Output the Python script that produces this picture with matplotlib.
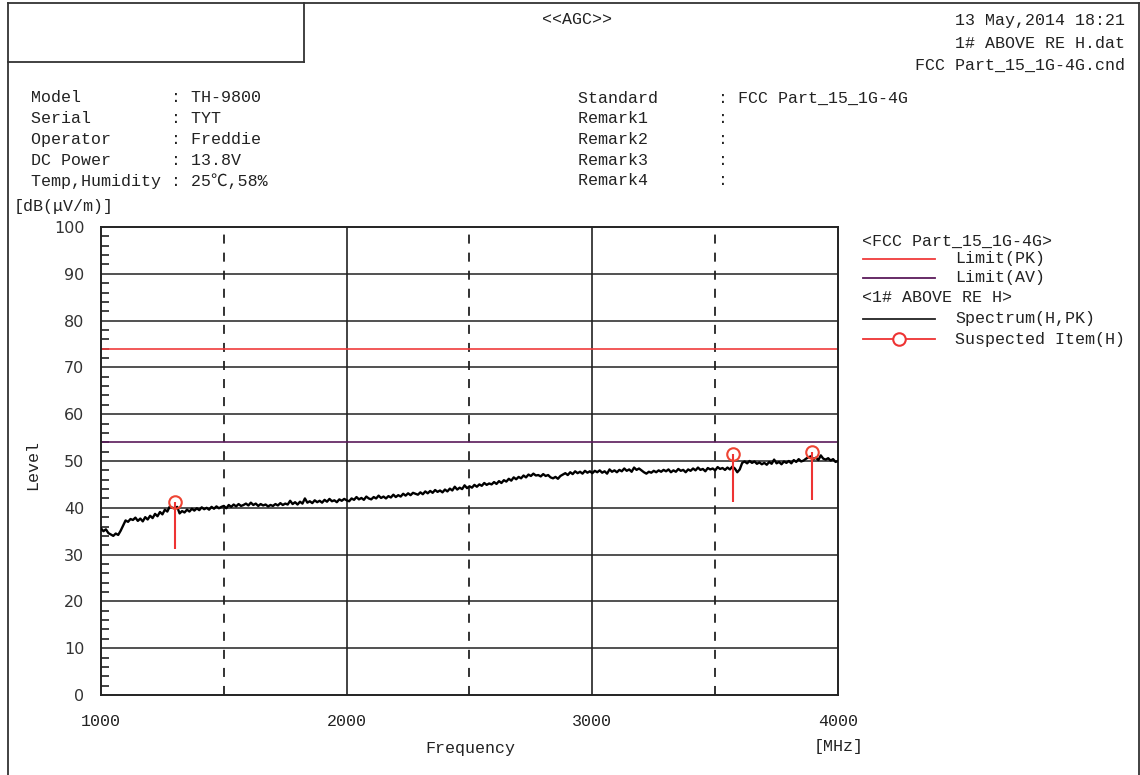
import numpy as np
import matplotlib
matplotlib.use("Agg")
import matplotlib.pyplot as plt
from matplotlib.lines import Line2D
from matplotlib.ticker import MultipleLocator

# spectrum (H, PK), 10 MHz step from 1000 to 4000 MHz
freq = np.arange(1000, 4001, 10)
level = [
    35.6, 35.0, 35.4, 34.6, 34.3, 34.0, 34.5, 34.2, 35.1, 36.2,
    37.3, 37.0, 37.6, 37.4, 37.9, 37.2, 37.7, 37.1, 38.0, 37.5,
    38.3, 37.8, 38.7, 38.2, 39.1, 38.6, 39.6, 39.2, 40.3, 40.0,
    39.9, 40.2, 38.8, 39.3, 39.0, 39.6, 39.2, 39.8, 39.4, 39.9,
    39.5, 40.1, 39.7, 40.0, 39.6, 40.2, 39.8, 40.3, 39.9, 40.2,
    40.4, 39.9, 40.6, 40.2, 40.7, 40.3, 40.8, 40.4, 40.6, 40.9,
    40.5, 41.1, 40.6, 40.9, 40.4, 40.8, 40.5, 40.7, 40.3, 40.6,
    40.4, 40.8, 40.5, 41.0, 40.6, 40.9, 40.7, 41.5, 40.8, 41.2,
    40.7, 41.3, 40.9, 42.0, 41.1, 41.4, 41.0, 41.6, 41.2, 41.5,
    41.1, 41.7, 41.3, 41.9, 41.4, 41.6, 41.2, 41.8, 41.5, 41.9,
    41.6, 41.4, 42.0, 41.7, 42.3, 41.8, 42.1, 41.7, 42.4, 42.0,
    41.8, 42.3, 42.0, 42.6, 42.1, 42.4, 42.0, 42.5, 42.2, 42.8,
    42.3, 42.7, 42.4, 43.0, 42.6, 43.1, 42.7, 43.2, 43.0, 42.8,
    43.3, 42.9, 43.5, 43.1, 43.6, 43.2, 43.8, 43.4, 43.7, 43.3,
    43.9, 43.5, 44.1, 43.7, 44.5, 43.9, 44.3, 44.0, 44.8, 44.2,
    44.6, 44.3, 44.9, 44.5, 45.0, 44.7, 45.3, 44.9, 45.2, 45.0,
    45.5, 45.1, 45.7, 45.3, 45.9, 45.6, 46.2, 45.8, 46.5, 46.1,
    46.6, 46.3, 46.9, 46.5, 47.1, 46.8, 47.3, 46.9, 47.0, 46.7,
    47.2, 46.8, 47.0, 46.5, 46.3, 46.6, 46.2, 46.8, 47.1, 47.4,
    47.0, 47.6, 47.2, 47.8, 47.4, 47.7, 47.3, 47.9, 47.5, 47.8,
    47.4, 47.9, 47.6, 48.0, 47.5, 47.8, 47.3, 48.2, 47.7, 48.0,
    47.6, 48.1, 47.8, 48.4, 47.9, 48.2, 47.7, 48.6, 48.1, 48.4,
    48.0, 47.6, 47.3, 47.7, 47.5, 47.9, 47.6, 48.0, 47.7, 48.1,
    47.8, 48.2, 47.6, 48.0, 47.7, 48.3, 47.9, 48.1, 47.6, 48.2,
    47.9, 48.4, 48.0, 48.6, 48.1, 48.3, 47.8, 48.5, 48.2, 48.4,
    48.0, 48.7, 48.3, 48.5, 48.1, 48.6, 48.2, 48.8, 48.4, 47.6,
    48.2, 49.6, 49.9, 49.5, 50.0, 49.6, 49.9, 49.4, 49.7, 49.3,
    49.6, 49.2, 49.8, 49.4, 50.3, 49.5, 49.8, 49.3, 49.9, 49.6,
    50.0, 49.5, 50.2, 49.8, 50.4, 49.9, 50.1, 50.5, 50.8, 51.0,
    50.4, 50.7, 50.2, 51.2, 50.5, 50.3, 50.6, 50.1, 50.4, 49.8,
    50.0,
]

limit_pk = 74.0
limit_av = 54.0

# suspected items
sus_freq = [1300, 3572, 3894]
sus_level = [41.2, 51.4, 51.9]
sus_base = [31.2, 41.3, 41.7]

header_left = [("Model", "TH-9800"), ("Serial", "TYT"), ("Operator", "Freddie"),
               ("DC Power", "13.8V"), ("Temp,Humidity", "25℃,58%")]
header_right = [("Standard", "FCC Part_15_1G-4G"), ("Remark1", ""), ("Remark2", ""),
                ("Remark3", ""), ("Remark4", "")]

W, H = 1140, 775
mono = ["Liberation Mono", "Noto Sans CJK SC", "DejaVu Sans"]
txtc = "#222222"

def fx(x):
    return x / W

def fy(y):
    return 1 - y / H

fig = plt.figure(figsize=(W / 100, H / 100), dpi=100)

# page frame
for xs, ys in [([8, 1139], [3, 3]), ([8, 8], [3, 775]), ([1139, 1139], [3, 775]),
               ([8, 304], [62, 62]), ([304, 304], [3, 62])]:
    fig.add_artist(Line2D([fx(v) for v in xs], [fy(v) for v in ys], color="#333333", lw=1.3))

fig.text(fx(577), fy(20), "<<AGC>>", family=mono, fontsize=12, ha="center", va="center", color=txtc)
fig.text(fx(1125), fy(21), "13 May,2014 18:21", family=mono, fontsize=12, ha="right", va="center", color=txtc)
fig.text(fx(1125), fy(44), "1# ABOVE RE H.dat", family=mono, fontsize=12, ha="right", va="center", color=txtc)
fig.text(fx(1125), fy(65), "FCC Part_15_1G-4G.cnd", family=mono, fontsize=12, ha="right", va="center", color=txtc)

for i, (k, v) in enumerate(header_left):
    fig.text(fx(31), fy(98 + i * 20.7), f"{k:<14}: {v}", family=mono, fontsize=12, va="center", color=txtc)
for i, (k, v) in enumerate(header_right):
    fig.text(fx(578), fy(98 + i * 20.7), f"{k:<14}: {v}", family=mono, fontsize=12, va="center", color=txtc)

fig.text(fx(14), fy(207), "[dB(μV/m)]", family=mono, fontsize=12, va="center", color=txtc)
fig.text(fx(33), fy(465), "Level", family=mono, fontsize=12, rotation=90, ha="center", va="center", color=txtc)
fig.text(fx(470), fy(748), "Frequency", family=mono, fontsize=12, ha="center", va="center", color=txtc)
fig.text(fx(839), fy(747), "[MHz]", family=mono, fontsize=12, ha="center", va="center", color=txtc)

ax = fig.add_axes([fx(101), fy(695), fx(838) - fx(101), fy(227) - fy(695)])
ax.set_xlim(1000, 4000)
ax.set_ylim(0, 100)

for v in range(10, 100, 10):
    ax.axhline(v, color="#333333", lw=1.2, zorder=1)
ax.axvline(2000, color="#222222", lw=1.2, zorder=1)
ax.axvline(3000, color="#222222", lw=1.2, zorder=1)
for v in (1500, 2500, 3500):
    ax.axvline(v, color="#222222", lw=1.3, ls=(0, (5, 5)), zorder=1)

ax.axhline(limit_pk, color="#f03c3c", lw=1.2, zorder=2)
ax.axhline(limit_av, color="#5a1a5a", lw=1.2, zorder=2)

ax.plot(freq, level, color="black", lw=1.7, zorder=3)
ax.vlines(sus_freq, sus_base, sus_level, color="#ee3333", lw=1.5, zorder=4)
ax.plot(sus_freq, sus_level, "o", ms=9, mfc="none", mec="#ee4433", mew=1.5, zorder=5)

ax.xaxis.set_major_locator(MultipleLocator(1000))
ax.yaxis.set_major_locator(MultipleLocator(10))
ax.yaxis.set_minor_locator(MultipleLocator(2))
ax.tick_params(axis="y", which="major", length=0, pad=12, labelsize=11.5, labelcolor="#333333")
ax.tick_params(axis="y", which="minor", direction="in", length=6, width=1.2, color="#222222")
ax.tick_params(axis="x", which="major", length=0, pad=14)
for lab in ax.get_xticklabels():
    lab.set_family(mono)
    lab.set_fontsize(12)
    lab.set_color(txtc)
for s in ax.spines.values():
    s.set_linewidth(1.4)
    s.set_color("#222222")

# legend drawn beside the plot
fig.text(fx(862), fy(241), "<FCC Part_15_1G-4G>", family=mono, fontsize=12, va="center", color=txtc)
fig.text(fx(862), fy(298), "<1# ABOVE RE H>", family=mono, fontsize=12, va="center", color=txtc)
leg = [(259, "#f03c3c", "Limit(PK)", False), (278, "#5a1a5a", "Limit(AV)", False),
       (319, "#222222", "Spectrum(H,PK)", False), (339, "#ee3333", "Suspected Item(H)", True)]
for yy, c, lab, mk in leg:
    fig.add_artist(Line2D([fx(863), fx(935)], [fy(yy), fy(yy)], color=c, lw=1.3))
    if mk:
        fig.add_artist(Line2D([fx(899)], [fy(yy)], marker="o", ms=9, mfc="white", mec=c, mew=1.5))
    fig.text(fx(955), fy(yy), lab, family=mono, fontsize=12, va="center", color=txtc)

fig.savefig("out.png", dpi=100)
